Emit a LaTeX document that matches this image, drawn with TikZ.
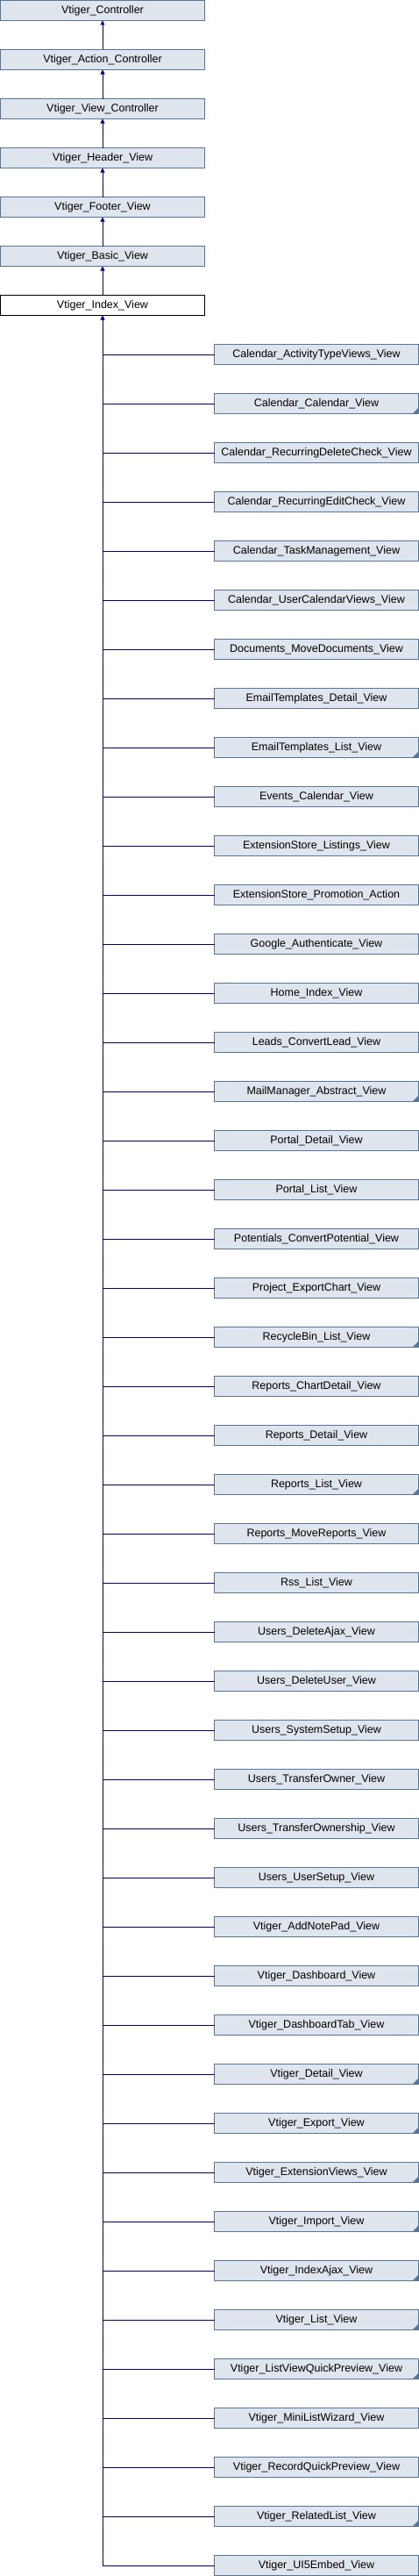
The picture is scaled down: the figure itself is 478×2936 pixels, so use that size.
\documentclass[tikz,border=0pt]{standalone}
\usepackage{fontspec}
\setmainfont{Liberation Sans}
\usetikzlibrary{arrows.meta, positioning}
\definecolor{clsfill}{HTML}{DFE5ED}
\definecolor{clsdraw}{HTML}{5A7594}
\definecolor{linkblue}{HTML}{000080}
\tikzstyle{cls} = [rectangle, minimum width=233pt, minimum height=23pt, inner sep=0pt, outer sep=0pt, text height=9pt, text depth=2.5pt, text centered, draw=clsdraw, fill=clsfill, line width=1pt, font=\fontsize{12.5}{14}\selectfont]
\tikzstyle{curcls} = [cls, draw=black, fill=white]
\tikzstyle{inherit} = [linkblue, line width=1pt, {Triangle[length=5pt,width=5pt]}-]
\tikzstyle{branch} = [linkblue, line width=1pt]
\tikzstyle{more} = [clsdraw]

\begin{document}
\begin{tikzpicture}
      \useasboundingbox (0,0) rectangle (478pt,-2936pt);

      \node (ctrl) [cls] at (117pt,-12pt) {Vtiger\_Controller};
      \node (action_ctrl) [cls, below=33pt of ctrl] {Vtiger\_Action\_Controller};
      \node (view_ctrl) [cls, below=33pt of action_ctrl] {Vtiger\_View\_Controller};
      \node (header_view) [cls, below=33pt of view_ctrl] {Vtiger\_Header\_View};
      \node (footer_view) [cls, below=33pt of header_view] {Vtiger\_Footer\_View};
      \node (basic_view) [cls, below=33pt of footer_view] {Vtiger\_Basic\_View};
      \node (index_view) [curcls, below=33pt of basic_view] {Vtiger\_Index\_View};

      \draw [inherit] (ctrl) -- (action_ctrl);
      \draw [inherit] (action_ctrl) -- (view_ctrl);
      \draw [inherit] (view_ctrl) -- (header_view);
      \draw [inherit] (header_view) -- (footer_view);
      \draw [inherit] (footer_view) -- (basic_view);
      \draw [inherit] (basic_view) -- (index_view);

      % derived classes
      \foreach \name [count=\i] in {Calendar\_ActivityTypeViews\_View, Calendar\_Calendar\_View,
          Calendar\_RecurringDeleteCheck\_View, Calendar\_RecurringEditCheck\_View,
          Calendar\_TaskManagement\_View, Calendar\_UserCalendarViews\_View,
          Documents\_MoveDocuments\_View, EmailTemplates\_Detail\_View,
          EmailTemplates\_List\_View, Events\_Calendar\_View,
          ExtensionStore\_Listings\_View, ExtensionStore\_Promotion\_Action,
          Google\_Authenticate\_View, Home\_Index\_View,
          Leads\_ConvertLead\_View, MailManager\_Abstract\_View,
          Portal\_Detail\_View, Portal\_List\_View,
          Potentials\_ConvertPotential\_View, Project\_ExportChart\_View,
          RecycleBin\_List\_View, Reports\_ChartDetail\_View,
          Reports\_Detail\_View, Reports\_List\_View,
          Reports\_MoveReports\_View, Rss\_List\_View,
          Users\_DeleteAjax\_View, Users\_DeleteUser\_View,
          Users\_SystemSetup\_View, Users\_TransferOwner\_View,
          Users\_TransferOwnership\_View, Users\_UserSetup\_View,
          Vtiger\_AddNotePad\_View, Vtiger\_Dashboard\_View,
          Vtiger\_DashboardTab\_View, Vtiger\_Detail\_View,
          Vtiger\_Export\_View, Vtiger\_ExtensionViews\_View,
          Vtiger\_Import\_View, Vtiger\_IndexAjax\_View,
          Vtiger\_List\_View, Vtiger\_ListViewQuickPreview\_View,
          Vtiger\_MiniListWizard\_View, Vtiger\_RecordQuickPreview\_View,
          Vtiger\_RelatedList\_View, Vtiger\_UI5Embed\_View} {
        \node (child\i) [cls] at (361pt,{-(404+56*(\i-1))*1pt}) {\name};
        \draw [branch] (child\i.west) -- (index_view.south |- child\i.west);
      }

      % classes with further subclasses
      \foreach \i in {2,9,16,21,24,36,37,38,39,40,41,42,45} {
        \fill [more] ([xshift=-7pt]child\i.south east) -- (child\i.south east) -- ([yshift=7pt]child\i.south east) -- cycle;
      }

      \coordinate (trunk_end) at (index_view.south |- child46.west);
      \draw [inherit] (index_view) -- (trunk_end);
    \end{tikzpicture}
\end{document}
